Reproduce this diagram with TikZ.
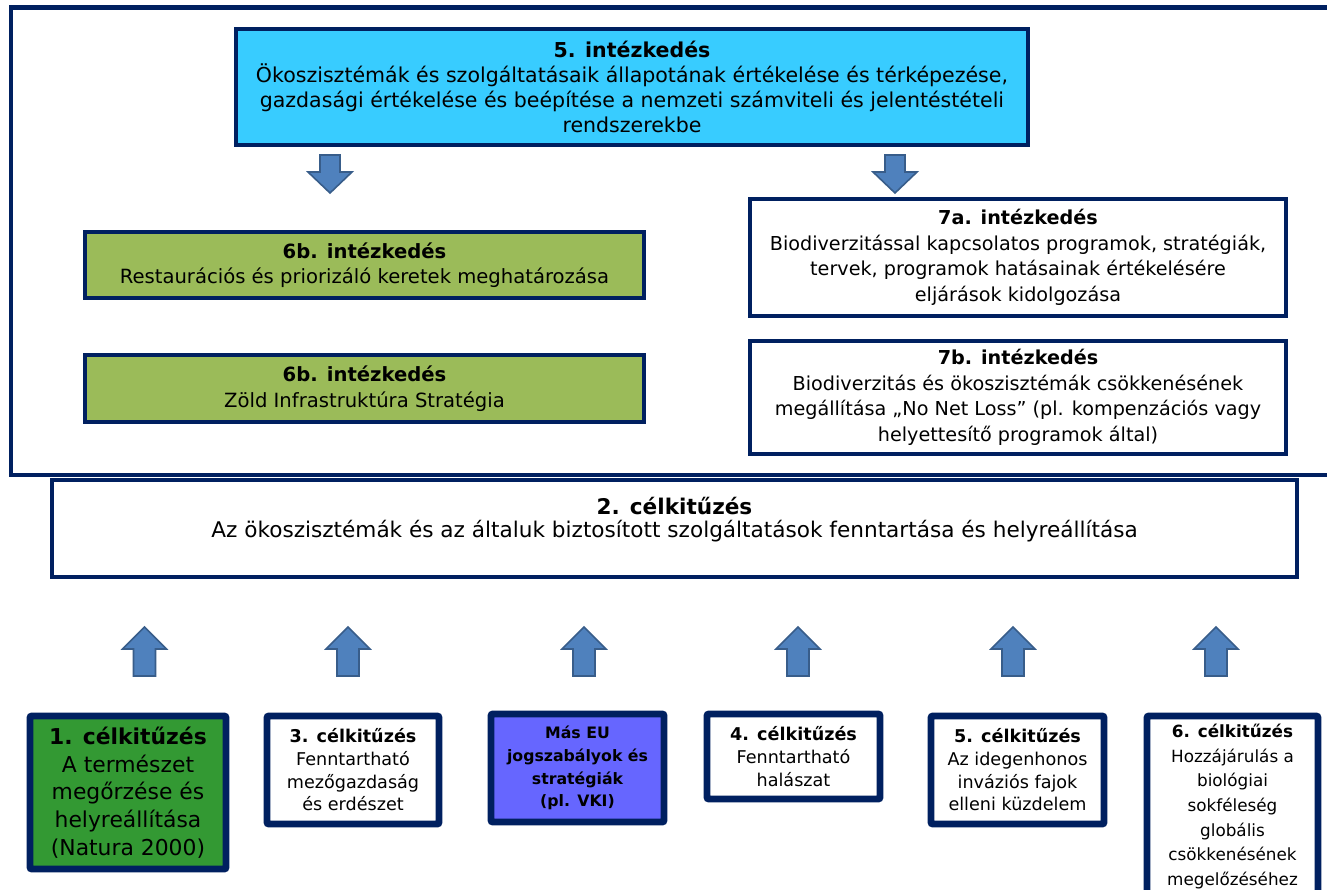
\documentclass[tikz,border=0pt]{standalone}
\usepackage{fontspec}
\setmainfont{DejaVu Sans}
\definecolor{framenavy}{RGB}{0,32,96}
\definecolor{topblue}{RGB}{56,204,255}
\definecolor{olivegreen}{RGB}{155,187,89}
\definecolor{darkgreen}{RGB}{51,153,51}
\definecolor{violetblue}{RGB}{102,102,255}
\definecolor{arrowfill}{RGB}{79,129,189}
\definecolor{arrowline}{RGB}{56,93,138}
\newcommand\bx[7]{\node[#6, minimum width={(#4-#2)*0.75pt}, minimum height={(#5-#3)*0.75pt}] (#1) at ({(#2+#4)/2},{(#3+#5)/2}) {#7};}
\newcommand\downarr[2]{\draw[blockarrow,shift={(#2,0)}] (-10,155) -- (-10,172) -- (-22,172) -- (0,193) -- (22,172) -- (10,172) -- (10,155) -- cycle; \coordinate (#1) at (#2,174);}
\newcommand\uparr[2]{\draw[blockarrow,shift={(#2,0)}] (-11,676) -- (-11,649) -- (-22,649) -- (0,627) -- (22,649) -- (11,649) -- (11,676) -- cycle; \coordinate (#1) at (#2,651);}
\tikzset{
  box/.style={draw=framenavy, line width=3.6pt, inner sep=0pt, align=center, rectangle},
  bigbox/.style={box, line width=5.2pt, rounded corners=1.5pt},
  blockarrow/.style={fill=arrowfill, draw=arrowline, line width=1.2pt, line join=miter},
  ftop/.style={font=\fontsize{15.4pt}{18.8pt}\selectfont},
  fmid/.style={font=\fontsize{14.7pt}{19.2pt}\selectfont},
  fseven/.style={font=\fontsize{14.4pt}{19.2pt}\selectfont},
  fgoal/.style={font=\fontsize{16.2pt}{17.3pt}\selectfont},
  fbone/.style={font=\fontsize{16.4pt}{20.8pt}\selectfont},
  fbot/.style={font=\fontsize{13.2pt}{17pt}\selectfont},
  fbeu/.style={font=\fontsize{11.8pt}{17pt}\selectfont\bfseries},
  fbsix/.style={font=\fontsize{12.6pt}{18.4pt}\selectfont},
}
\begin{document}
\begin{tikzpicture}[x=0.75pt,y=-0.75pt]
\useasboundingbox (0,0) rectangle (1327,889);
\clip (0,0) rectangle (1327,889);
\fill[white] (0,0) rectangle (1327,889);
% outer frame
\bx{frame}{11}{7.5}{1345}{475}{box, line width=3.4pt}{}
% top measure
\bx{m5}{236}{29}{1028}{145}{box, fill=topblue, ftop}{\textbf{5. intézkedés}\\Ökoszisztémák és szolgáltatásaik állapotának értékelése és térképezése,\\gazdasági értékelése és beépítése a nemzeti számviteli és jelentéstételi\\rendszerekbe}
\downarr{dl}{330}
\downarr{dr}{895}
\bx{m6a}{85}{232}{644}{298}{box, fill=olivegreen, fmid}{\textbf{6b. intézkedés}\\Restaurációs és priorizáló keretek meghatározása}
\bx{m6b}{85}{355}{644}{422}{box, fill=olivegreen, fmid}{\textbf{6b. intézkedés}\\Zöld Infrastruktúra Stratégia}
\bx{m7a}{750}{199}{1286}{316}{box, fill=white, fseven}{\textbf{7a. intézkedés}\\Biodiverzitással kapcsolatos programok, stratégiák,\\tervek, programok hatásainak értékelésére\\eljárások kidolgozása}
\bx{m7b}{750}{341}{1286}{454}{box, fill=white, fseven}{\textbf{7b. intézkedés}\\Biodiverzitás és ökoszisztémák csökkenésének\\megállítása „No Net Loss" (pl. kompenzációs vagy\\helyettesítő programok által)}
% goal 2
\bx{g2}{52}{480}{1297}{577}{box, fill=white, fgoal}{\textbf{2. célkitűzés}\\Az ökoszisztémák és az általuk biztosított szolgáltatások fenntartása és helyreállítása\\\mbox{}}
% up arrows
\uparr{u1}{144.5}
\uparr{u2}{348}
\uparr{u3}{584}
\uparr{u4}{798}
\uparr{u5}{1013}
\uparr{u6}{1216}
% bottom goals
\bx{b1}{30}{716}{226}{869}{bigbox, fill=darkgreen, fbone}{\textbf{1. célkitűzés}\\A természet\\megőrzése és\\helyreállítása\\(Natura 2000)}
\bx{b3}{267}{716}{439}{824}{bigbox, fill=white, fbot}{\textbf{3. célkitűzés}\\Fenntartható\\mezőgazdaság\\és erdészet}
\bx{beu}{491}{714}{664}{822}{bigbox, fill=violetblue, fbeu}{Más EU\\jogszabályok és\\stratégiák\\(pl. VKI)}
\bx{b4}{707}{714}{880}{799}{bigbox, fill=white, fbot}{\textbf{4. célkitűzés}\\Fenntartható\\halászat}
\bx{b5}{931}{716}{1104}{824}{bigbox, fill=white, fbot}{\textbf{5. célkitűzés}\\Az idegenhonos\\inváziós fajok\\elleni küzdelem}
\bx{b6}{1147}{716}{1318}{897}{bigbox, fill=white, fbsix}{\textbf{6. célkitűzés}\\Hozzájárulás a\\biológiai\\sokféleség\\globális\\csökkenésének\\megelőzéséhez}
\end{tikzpicture}
\end{document}
